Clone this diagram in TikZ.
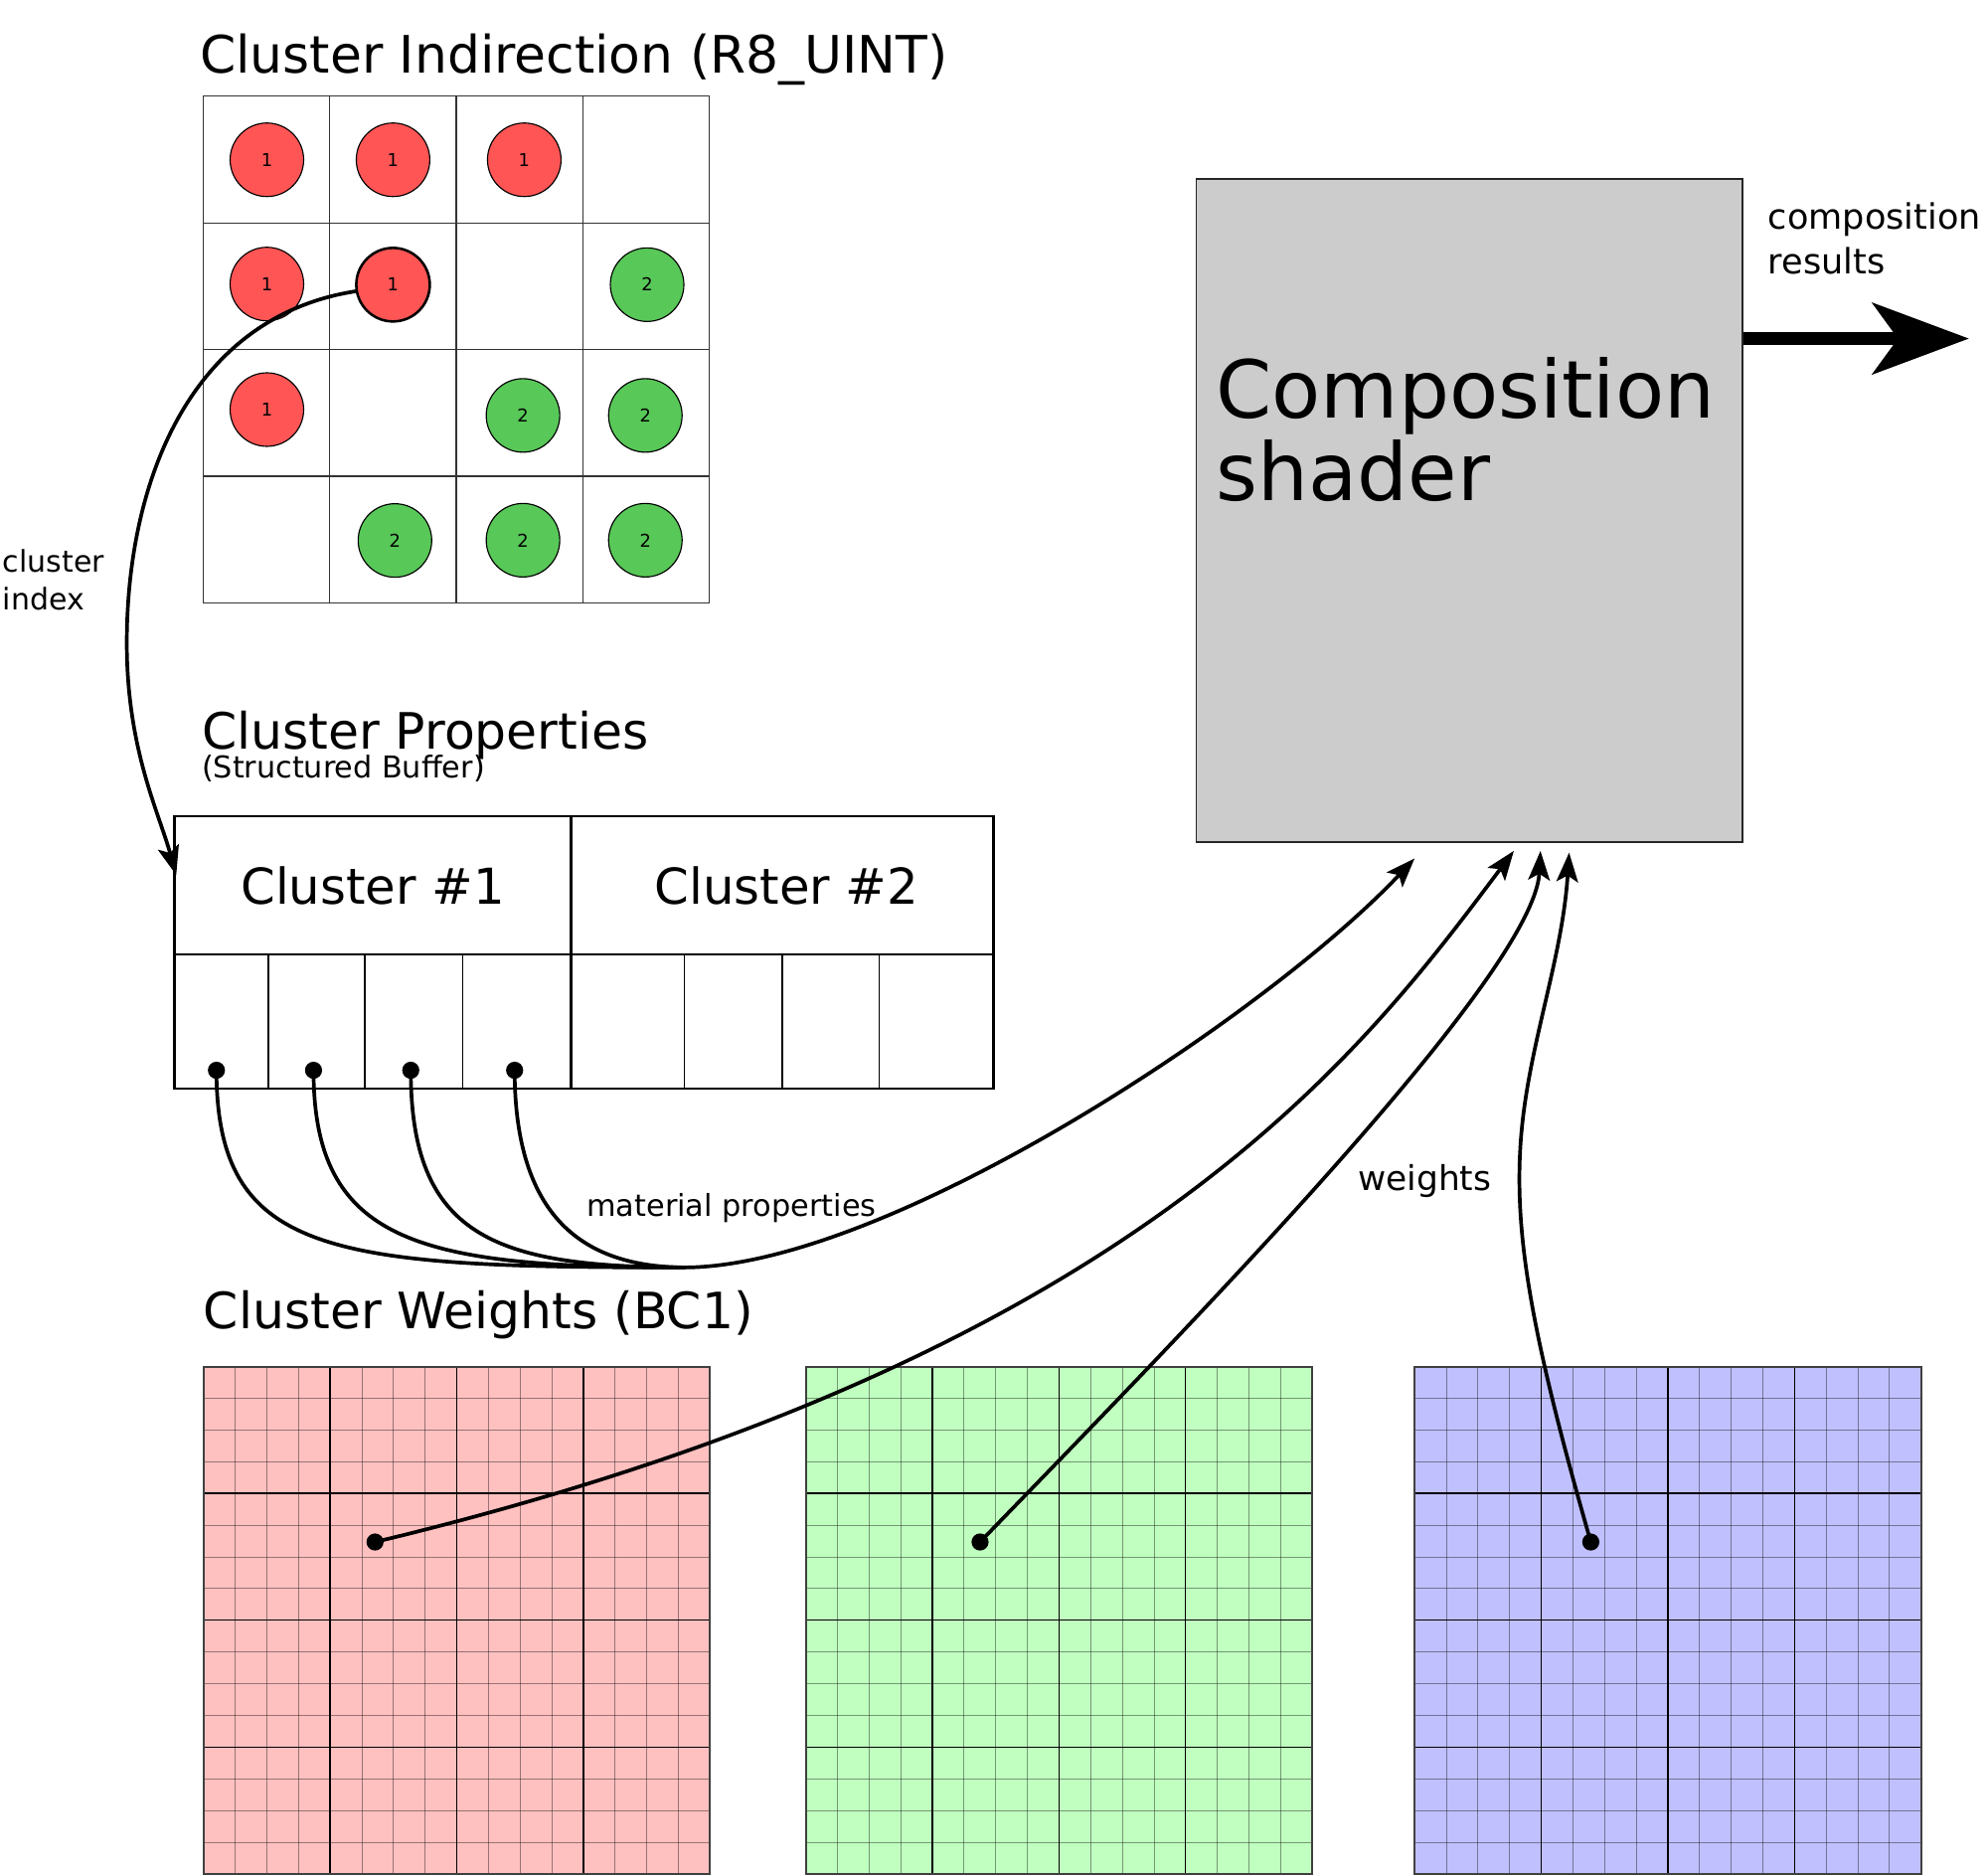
\documentclass[tikz,border=0pt]{standalone}
\usepackage{fontspec}
\setmainfont{DejaVu Sans}
\usetikzlibrary{arrows.meta}
\definecolor{redc}{HTML}{FF5555}
\definecolor{greenc}{HTML}{58C858}
\definecolor{wred}{HTML}{FFC0C0}
\definecolor{wgreen}{HTML}{C0FFC0}
\definecolor{wblue}{HTML}{C0C0FF}
\definecolor{compg}{HTML}{CCCCCC}
\begin{document}
\begin{tikzpicture}[x=1pt,y=-1pt,
  conn/.style={line width=2.9pt, line cap=round},
  arr/.style={conn, -{Stealth[length=23pt,width=17pt,inset=5pt]}},
  dotn/.style={circle, fill=black, inner sep=0pt, minimum size=13.5pt},
  circ/.style={circle, draw=black, line width=0.9pt, minimum size=58pt, inner sep=0pt, font=\fontsize{14}{17}\selectfont},
  rc/.style={circ, fill=redc},
  gc/.style={circ, fill=greenc},
  titlen/.style={anchor=base west, inner sep=0pt, font=\fontsize{39.5}{47}\selectfont},
  lbl/.style={anchor=base west, inner sep=0pt, align=left},
  gridl/.style={draw=black!80, line width=0.9pt},
  hdr/.style={draw, line width=2.2pt, inner sep=0pt, minimum height=108.9pt, font=\fontsize{39}{47}\selectfont},
  minorl/.style={draw=black, opacity=0.4, line width=0.7pt},
  majorl/.style={draw=black, line width=1.1pt},
  outerl/.style={draw=black!75, line width=1.5pt},
]
\useasboundingbox (0,0) rectangle (1568,1478);

% titles
\node[titlen, font=\fontsize{40.7}{48}\selectfont] (t1n) at (157.5,57.9) {Cluster Indirection (R8\_UINT)};
\node[titlen] (t2n) at (159,590.5) {Cluster Properties};
\node[lbl, font=\fontsize{23.7}{28}\selectfont] (t2s) at (159,613.6) {(Structured Buffer)};
\node[titlen] (t3n) at (160.5,1048) {Cluster Weights (BC1)};

% indirection grid
\foreach \i in {0,...,4} {
  \draw[gridl] (160+\i*99.9,75.8) -- (160+\i*99.9,475.3);
  \draw[gridl] (160,75.8+\i*99.9) -- (559.6,75.8+\i*99.9);
}
\node[rc] (c11) at (210.5,126) {1};
\node[rc] (c12) at (310,126) {1};
\node[rc] (c13) at (413.5,126) {1};
\node[rc] (c21) at (210.5,224) {1};
\node[rc, line width=2pt] (c22) at (310,224.5) {1};
\node[gc] (c24) at (510.4,224.5) {2};
\node[rc] (c31) at (210.5,323) {1};
\node[gc] (c33) at (412.5,327.6) {2};
\node[gc] (c34) at (509,327.6) {2};
\node[gc] (c42) at (311.5,426.2) {2};
\node[gc] (c43) at (412.5,426) {2};
\node[gc] (c44) at (509,426) {2};

% cluster properties
\node[hdr, minimum width=313pt] (h1) at (294.1,698.15) {Cluster \#1};
\node[hdr, minimum width=332.9pt, text depth=0pt] (h2) at (617.05,698.15) {\hspace*{7pt}Cluster \#2};
\foreach \x in {211.7,287.8,365,539.8,617,693.7} {
  \draw[line width=1pt] (\x,752.6) -- (\x,858.5);
}
\draw[line width=2.2pt] (137.6,752.6) rectangle (783.5,858.5);
\draw[line width=2.5pt] (450.6,752.6) -- (450.6,858.5);

\node[dotn] (d1) at (170.7,844) {};
\node[dotn] (d2) at (247.3,844) {};
\node[dotn] (d3) at (324,844) {};
\node[dotn] (d4) at (405.9,844) {};

% composition shader
\node[draw=black!85, line width=1.5pt, fill=compg, minimum width=430.5pt, minimum height=523.2pt, anchor=north west, inner sep=0pt] (cs) at (942.8,140.1) {};
\node[lbl, font=\fontsize{63}{65.5}\selectfont] (cst) at (959,395) {Composition\\shader};
\coordinate (oy) at (1553,267);
\draw[line width=10pt, -{Stealth[length=76pt,width=56pt,inset=20pt]}] (cs.east |- oy) -- (oy);
\node[lbl, font=\fontsize{27.5}{34.7}\selectfont] (cr) at (1394.5,215.7) {composition\\results};

% weight grids
\foreach \gx/\col in {160.5/wred, 635.5/wgreen, 1115.7/wblue} {
  \fill[\col] (\gx,1077.7) rectangle ++(399.5,400);
  \foreach \i in {1,...,15} {
    \draw[minorl] (\gx+\i*24.97,1077.7) -- ++(0,400);
    \draw[minorl] (\gx,1077.7+\i*25) -- ++(399.5,0);
  }
  \foreach \i in {1,2,3} {
    \draw[majorl] (\gx+\i*99.875,1077.7) -- ++(0,400);
    \draw[majorl] (\gx,1077.7+\i*100) -- ++(399.5,0);
  }
  \draw[outerl] (\gx,1077.7) rectangle ++(399.5,400);
}
\node[dotn] (rd) at (295.8,1216) {};
\node[dotn] (gd) at (773,1216) {};
\node[dotn] (bd) at (1254.7,1216) {};

% connector end points
\coordinate (ci) at (139,690);
\coordinate (m) at (540,999.5);
\coordinate (a1) at (1115.7,677);
\coordinate (a2) at (1194,671);
\coordinate (a3) at (1215,671);
\coordinate (a4) at (1237.6,672.4);

% connectors
\draw[arr] (c22.190) .. controls (150,250) and (100,380) .. (100,507) .. controls (100,590) and (125,640) .. (ci);
\draw[conn] (d1.center) .. controls (171,990) and (260,999.5) .. (m);
\draw[conn] (d2.center) .. controls (247.3,980) and (330,999.5) .. (m);
\draw[conn] (d3.center) .. controls (324,975) and (390,999) .. (m);
\draw[conn] (d4.center) .. controls (406,960) and (460,999) .. (m);
\draw[arr] (m) .. controls (700,999) and (1000,800) .. (a1);
\draw[arr] (rd.center) .. controls (896,1072) and (1074,831) .. (a2);
\draw[arr] (gd.center) .. controls (923,1061) and (1210,770) .. (a3);
\draw[arr] (bd.center) .. controls (1210,1060) and (1195,980) .. (1199,907) .. controls (1203,830) and (1232,760) .. (a4);

% labels
\node[lbl, font=\fontsize{23.5}{30}\selectfont] (lci) at (2.1,480.9) {cluster\\index};
\node[lbl, font=\fontsize{23.8}{28}\selectfont] (lmp) at (462.6,959) {material properties};
\node[lbl, font=\fontsize{27}{32}\selectfont] (lw) at (1071,939) {weights};
\end{tikzpicture}
\end{document}
